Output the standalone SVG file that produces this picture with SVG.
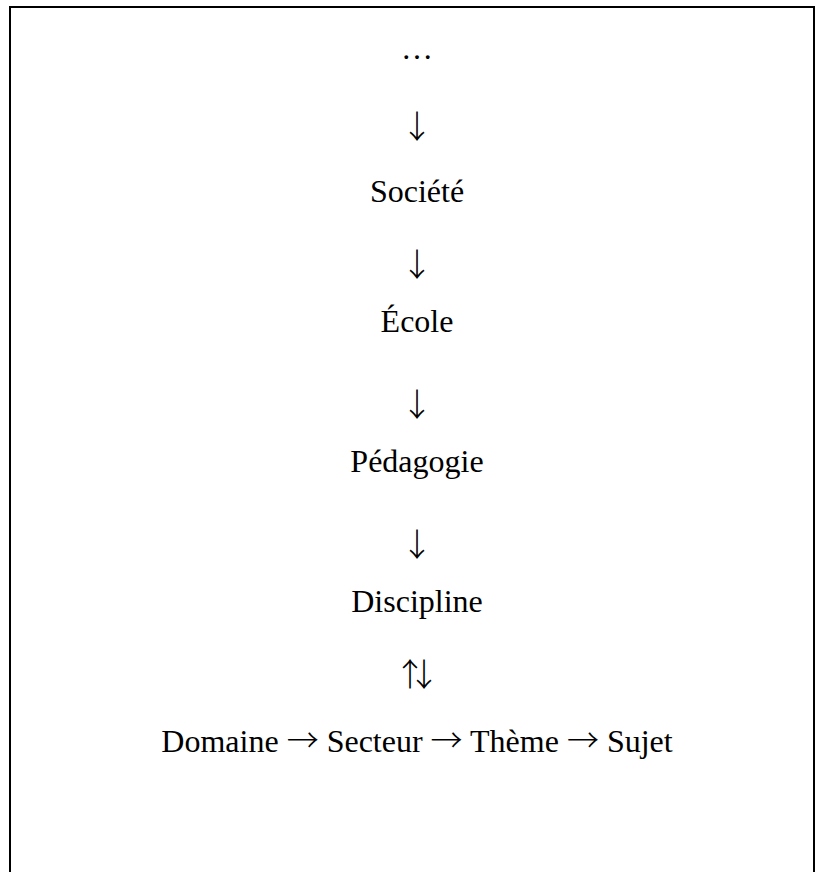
<svg xmlns="http://www.w3.org/2000/svg" width="815" height="872" viewBox="0 0 815 872">
<style>
  .t { font-family: "Liberation Serif", "Times New Roman", serif; font-size: 32px; fill: #000; text-anchor: middle; }
  .a { font-family: "Noto Sans CJK JP", "DejaVu Sans", sans-serif; font-weight: 300; }
  .frame { fill: none; stroke: #000; stroke-width: 2; }
</style>
<rect width="815" height="872" fill="#fff"/>
<path class="frame" d="M10,872 V7 H814 V872"/>
<g id="connectors">
  <text class="t a" x="417" y="138">↓</text>
  <text class="t a" x="417" y="276">↓</text>
  <text class="t a" x="417" y="416">↓</text>
  <text class="t a" x="417" y="556">↓</text>
  <text class="t a" x="408" y="686" letter-spacing="-18">↑↓</text>
</g>
<g id="node-ellipsis"><text class="t" x="417" y="59">…</text></g>
<g id="node-societe"><text class="t" x="417" y="202">Société</text></g>
<g id="node-ecole"><text class="t" x="417" y="332">École</text></g>
<g id="node-pedagogie"><text class="t" x="417" y="472">Pédagogie</text></g>
<g id="node-discipline"><text class="t" x="417" y="612">Discipline</text></g>
<g id="node-chain"><text class="t" x="417" y="752">Domaine <tspan class="a">→</tspan> Secteur <tspan class="a">→</tspan> Thème <tspan class="a">→</tspan> Sujet</text></g>
</svg>
